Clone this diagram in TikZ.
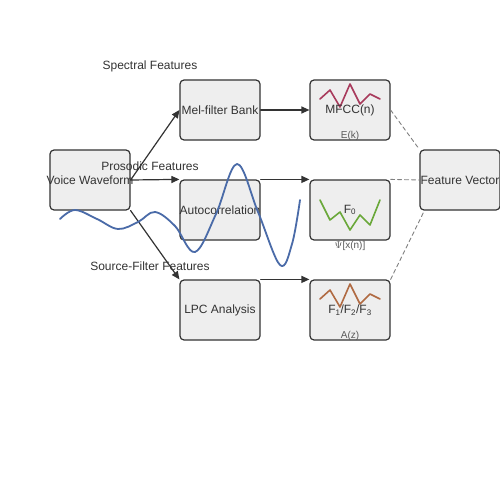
\documentclass[tikz,border=0pt]{standalone}
\usepackage{fontspec}
\setmainfont{Liberation Sans}
\usetikzlibrary{arrows.meta,calc}
\definecolor{boxfill}{HTML}{EEEEEE}
\definecolor{boxline}{HTML}{333333}
\definecolor{wave}{HTML}{4A6BA8}
\definecolor{mfccline}{HTML}{A83A5C}
\definecolor{pitchline}{HTML}{6AA83A}
\definecolor{lpcline}{HTML}{B06A42}
\tikzset{
  box/.style={draw=boxline,fill=boxfill,line width=1.2pt,rounded corners=4pt,minimum width=80pt,minimum height=60pt,inner sep=0pt},
  boxtext/.style={text=boxline,font=\fontsize{12}{14}\selectfont,inner sep=0pt},
  grouptext/.style={text=boxline,font=\fontsize{12}{14}\selectfont,inner sep=0pt},
  smalltext/.style={text=black!65,font=\fontsize{10}{12}\selectfont,inner sep=0pt},
  flow/.style={draw=boxline,line width=1.2pt,-{Triangle[length=8pt,width=7pt]}},
  merge/.style={draw=black!50,line width=0.9pt,dash pattern=on 4pt off 3pt},
}
\begin{document}
\begin{tikzpicture}[line cap=round,line join=round,x=1pt,y=-1pt]
  \useasboundingbox[fill=white] (0,0) rectangle (500,500);
  %%%%%%%% B O X E S %%%%%%%%
  %input
  \node[box,label={[boxtext]center:Voice Waveform}] (voice) at (90,180) {};
  %stage 1
  \node[box,label={[boxtext]center:Mel-filter Bank}] (mel) at (220,110) {};
  \node[box,label={[boxtext]center:Autocorrelation}] (autocorr) at (220,210) {};
  \node[box,label={[boxtext]center:LPC Analysis}] (lpc) at (220,310) {};
  %stage 2
  \node[box] (mfcc) at (350,110) {};
  \node[box] (pitch) at (350,210) {};
  \node[box] (formant) at (350,310) {};
  %output
  \node[box,label={[boxtext]center:Feature Vector}] (fvec) at (460,180) {};
  %%%%%%%% F L O W S %%%%%%%%
  \draw[flow] (voice.east) -- (mel.west);
  \draw[flow] (voice.east) -- (autocorr.north west);
  \draw[flow] (voice.south east) -- (lpc.north west);
  \draw[flow] (mel.east) -- (mfcc.west);
  \draw[flow] (autocorr.north east) -- (pitch.north west);
  \draw[flow] (lpc.north east) -- (formant.north west);
  %merge
  \draw[merge] (mfcc.east) -- (fvec.north west);
  \draw[merge] (pitch.north east) -- (fvec.west);
  \draw[merge] (formant.north east) -- ($(fvec.south west)+(5,0)$);
  %%%%%%%% C U R V E S %%%%%%%%
  \draw[mfccline,line width=1.6pt] plot coordinates {(320,99) (330,90) (340,107) (350,84) (360,104) (370,94) (380,99)};
  \draw[pitchline,line width=1.6pt] plot coordinates {(320,200) (330,220) (340,212) (350,230) (360,215) (370,225) (380,200)};
  \draw[lpcline,line width=1.6pt] plot coordinates {(320,299) (330,290) (340,307) (350,284) (360,304) (370,294) (380,299)};
  %stage 2 texts
  \node[boxtext] (mfcctxt) at (350,110) {MFCC(n)};
  \node[boxtext] (pitchtxt) at (350,210) {F\textsubscript{0}};
  \node[boxtext] (formanttxt) at (350,310) {F\textsubscript{1}/F\textsubscript{2}/F\textsubscript{3}};
  \node[smalltext] (energy) at (350,136) {E(k)};
  \node[smalltext] (teager) at (350,246) {$\Psi$[x(n)]};
  \node[smalltext] (allpole) at (350,336) {A(z)};
  %%%%%%%% T A G S %%%%%%%%
  \node[grouptext] (spectral) at (150,66) {Spectral Features};
  \node[grouptext] (prosodic) at (150,166) {Prosodic Features};
  \node[grouptext] (srcfilter) at (150,266) {Source-Filter Features};
  %waveform
  \draw[wave,line width=1.8pt] plot[smooth,tension=0.6] coordinates {(60,219) (75,210) (97,219) (118,229) (138,222) (155,212) (175,226) (195,252) (216,214) (237,164) (258,212) (280,265) (292,244) (300,200)};
\end{tikzpicture}
\end{document}
